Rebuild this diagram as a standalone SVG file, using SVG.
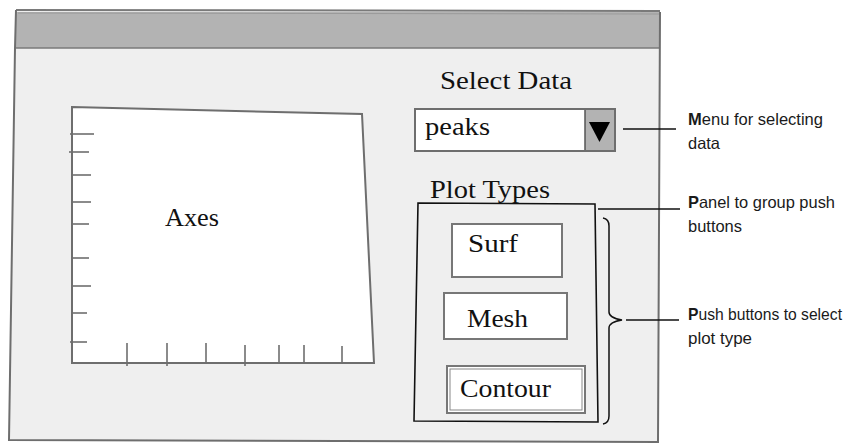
<svg xmlns="http://www.w3.org/2000/svg" width="849" height="447" viewBox="0 0 849 447">
<style>
.serif{font-family:"Liberation Serif","Times New Roman",serif;font-size:25px;fill:#111}
.lbl{font-family:"Liberation Sans",Arial,sans-serif;font-size:16.5px;fill:#1a1a1a}
.b{font-weight:bold}
.frame{fill:none;stroke:#6e6e6e;stroke-width:2}
.tick{stroke:#6e6e6e;stroke-width:1.6}
.conn{fill:none;stroke:#111;stroke-width:1.5}
.btn{fill:#fff;stroke:#777;stroke-width:2}
</style>
<rect width="849" height="447" fill="#fff"/>
<g id="window">
  <polygon points="16,11 660,12 659,441 9,440" fill="#efefef"/>
  <rect x="16" y="12" width="644" height="36" fill="#b3b3b3"/>
  <line x1="16" y1="48" x2="660" y2="48" stroke="#7a7a7a" stroke-width="1.5"/>
  <line x1="16" y1="10" x2="660" y2="11" stroke="#7a7a7a" stroke-width="2"/>
  <line x1="18" y1="13" x2="660" y2="14" stroke="#9a9a9a" stroke-width="1"/>
  <polyline points="16,10 15,48 9,440 658,442 660,12" class="frame"/>
</g>
<g id="axes">
  <polygon points="72,107 362,114 374,363 72,363" style="fill:#fff;stroke:#6e6e6e;stroke-width:2"/>
  <g class="tick">
    <line x1="70" y1="134" x2="94" y2="134"/>
    <line x1="69" y1="152" x2="89" y2="152"/>
    <line x1="72" y1="175" x2="91" y2="175"/>
    <line x1="72" y1="202" x2="91" y2="202"/>
    <line x1="72" y1="224" x2="89" y2="224"/>
    <line x1="72" y1="258" x2="89" y2="258"/>
    <line x1="72" y1="286" x2="91" y2="286"/>
    <line x1="72" y1="313" x2="87" y2="313"/>
    <line x1="70" y1="342" x2="87" y2="342"/>
    <line x1="127" y1="343" x2="127" y2="366"/>
    <line x1="167" y1="343" x2="167" y2="366"/>
    <line x1="206" y1="343" x2="206" y2="364"/>
    <line x1="245" y1="345" x2="245" y2="366"/>
    <line x1="279" y1="345" x2="279" y2="364"/>
    <line x1="304" y1="345" x2="304" y2="364"/>
    <line x1="342" y1="346" x2="342" y2="364"/>
  </g>
  <text class="serif" x="165" y="226" textLength="54" lengthAdjust="spacingAndGlyphs">Axes</text>
</g>
<g id="select-data">
  <text class="serif" x="440" y="89" textLength="132" lengthAdjust="spacingAndGlyphs">Select Data</text>
</g>
<g id="menu">
  <rect x="415" y="109" width="200" height="42" style="fill:#fff;stroke:#6e6e6e;stroke-width:2"/>
  <rect x="585" y="110" width="29" height="40" fill="#b3b3b3"/>
  <line x1="585" y1="110" x2="585" y2="150" stroke="#555" stroke-width="1.5"/>
  <polygon points="589,122 610,122 599.5,142" fill="#000"/>
  <text class="serif" x="425" y="135" textLength="65" lengthAdjust="spacingAndGlyphs">peaks</text>
</g>
<g id="plot-types">
  <polygon points="418,203 595,204 598,422 414,421" fill="none" stroke="#111" stroke-width="1.6"/>
  <rect x="425" y="180" width="130" height="20" fill="#efefef"/>
  <text class="serif" x="430" y="198" textLength="120" lengthAdjust="spacingAndGlyphs">Plot Types</text>
</g>
<g id="surf">
  <rect x="452" y="224" width="110" height="53" class="btn"/>
  <text class="serif" x="468" y="252" textLength="50" lengthAdjust="spacingAndGlyphs">Surf</text>
</g>
<g id="mesh">
  <rect x="444" y="293" width="123" height="46" class="btn"/>
  <text class="serif" x="467" y="327" textLength="61" lengthAdjust="spacingAndGlyphs">Mesh</text>
</g>
<g id="contour">
  <rect x="447" y="366" width="138" height="47" class="btn"/>
  <rect x="450" y="369" width="132" height="41" fill="none" stroke="#888" stroke-width="1"/>
  <text class="serif" x="460" y="397" textLength="91" lengthAdjust="spacingAndGlyphs">Contour</text>
</g>
<g id="connectors">
  <line x1="623" y1="129" x2="676" y2="129" class="conn"/>
  <line x1="598" y1="209" x2="680" y2="209" class="conn"/>
  <path d="M603,218 Q609,219 609,226 L609,312 Q609,318 622,320 Q609,322 609,328 L609,416 Q609,423 603,424" class="conn"/>
  <line x1="626" y1="320" x2="679" y2="320" class="conn"/>
</g>
<g id="labels">
  <text class="lbl" x="688" y="125" textLength="135" lengthAdjust="spacingAndGlyphs"><tspan class="b">M</tspan>enu for selecting</text>
  <text class="lbl" x="688" y="149" textLength="32" lengthAdjust="spacingAndGlyphs">data</text>
  <text class="lbl" x="688" y="208" textLength="147" lengthAdjust="spacingAndGlyphs"><tspan class="b">P</tspan>anel to group push</text>
  <text class="lbl" x="688" y="232" textLength="54" lengthAdjust="spacingAndGlyphs">buttons</text>
  <text class="lbl" x="688" y="320" textLength="154" lengthAdjust="spacingAndGlyphs"><tspan class="b">P</tspan>ush buttons to select</text>
  <text class="lbl" x="688" y="344" textLength="64" lengthAdjust="spacingAndGlyphs">plot type</text>
</g>
</svg>
